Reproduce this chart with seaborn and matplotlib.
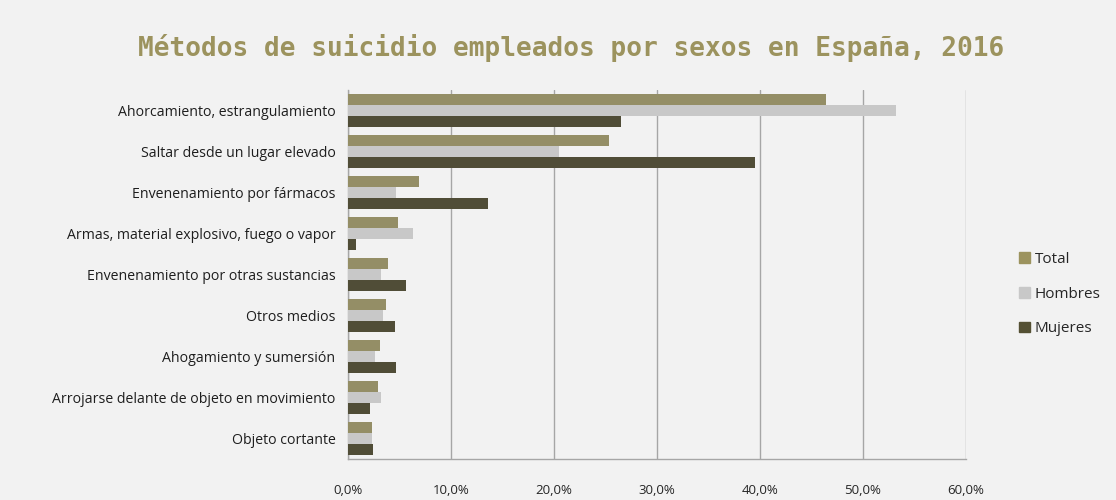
import matplotlib
matplotlib.use("Agg")
import matplotlib.pyplot as plt
import matplotlib.ticker as mticker
import seaborn as sns
import pandas as pd
import numpy as np

categories = [
    "Ahorcamiento, estrangulamiento",
    "Saltar desde un lugar elevado",
    "Envenenamiento por fármacos",
    "Armas, material explosivo, fuego o vapor",
    "Envenenamiento por otras sustancias",
    "Otros medios",
    "Ahogamiento y sumersión",
    "Arrojarse delante de objeto en movimiento",
    "Objeto cortante",
]
total = [46.4, 25.3, 6.9, 4.9, 3.9, 3.7, 3.1, 2.95, 2.3]
hombres = [53.2, 20.5, 4.7, 6.3, 3.2, 3.4, 2.6, 3.2, 2.3]
mujeres = [26.5, 39.5, 13.6, 0.8, 5.6, 4.6, 4.7, 2.1, 2.4]
series_names = ["Total", "Hombres", "Mujeres"]
colors = ["#9c935e", "#c8c8c8", "#545033"]
xticks = [0, 10, 20, 30, 40, 50, 60]

df = pd.DataFrame({
    "Método": categories * 3,
    "Serie": [s for s in series_names for _ in categories],
    "Valor": total + hombres + mujeres,
})

sns.set_style("white")
plt.rcParams["font.family"] = ["Open Sans", "DejaVu Sans"]

fig = plt.figure(figsize=(11.16, 5.0), dpi=100, facecolor="#f2f2f2")
ax = fig.add_axes([0.3118, 0.082, 0.5538, 0.738])
ax.set_facecolor("#f2f2f2")

sns.barplot(data=df, y="Método", x="Valor", hue="Serie", order=categories,
            hue_order=series_names, palette=colors, orient="h", width=0.8,
            ax=ax, legend=False, edgecolor="none", linewidth=0, zorder=3)

ax.set_xlim(0, 60)
ax.set_ylim(len(categories) - 0.5, -0.5)
ax.set_xticks(xticks)
ax.xaxis.set_major_formatter(mticker.FuncFormatter(lambda v, p: f"{v:.1f}%".replace(".", ",")))
ax.grid(axis="x", color="#a6a6a6", linewidth=1.0, zorder=0)
ax.grid(axis="y", visible=False)
ax.set_axisbelow(True)
ax.set_xlabel("")
ax.set_ylabel("")

for s in ["top", "right"]:
    ax.spines[s].set_visible(False)
for s in ["left", "bottom"]:
    ax.spines[s].set_color("#a6a6a6")
    ax.spines[s].set_linewidth(1.0)

ax.tick_params(axis="x", direction="out", length=5, color="#a6a6a6", pad=13,
               labelsize=9.5, labelcolor="#262626")
ax.tick_params(axis="y", which="major", length=0, pad=9, labelsize=10.2, labelcolor="#1e1e1e")
ax.set_yticks(np.arange(len(categories) + 1) - 0.5, minor=True)
ax.tick_params(axis="y", which="minor", direction="out", length=5, color="#a6a6a6")

fig.text(0.512, 0.903, "Métodos de suicidio empleados por sexos en España, 2016",
         ha="center", va="center", fontsize=18.8, fontweight="bold",
         family="DejaVu Sans Mono", color="#9c935e")

handles = [plt.Rectangle((0, 0), 1, 1, color=c) for c in colors]
fig.legend(handles, series_names, loc="center left", bbox_to_anchor=(0.901, 0.412),
           frameon=False, fontsize=11, handlelength=0.7, handleheight=0.7,
           handletextpad=0.3, labelspacing=1.3, labelcolor="#262626")

fig.savefig("out.png", dpi=100, facecolor=fig.get_facecolor())
